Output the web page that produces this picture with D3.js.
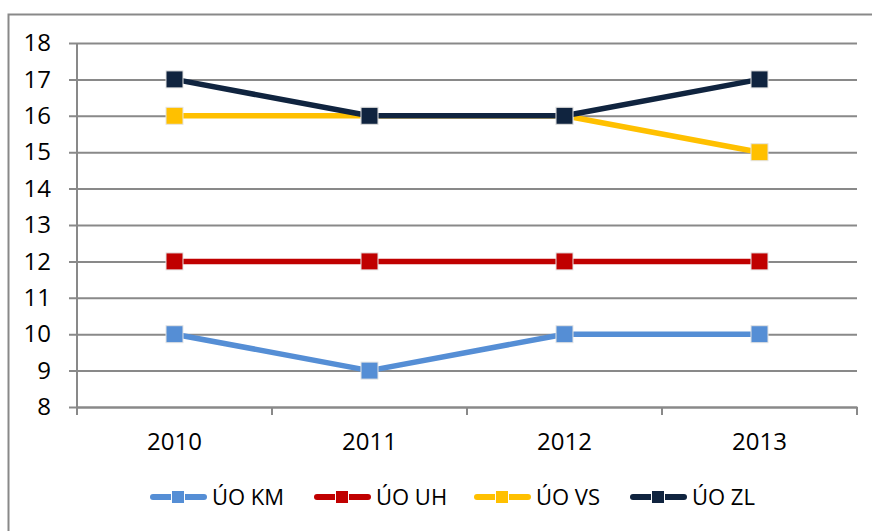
<!DOCTYPE html>
<html>
<head>
<meta charset="utf-8">
<script src="https://cdn.jsdelivr.net/npm/d3@7"></script>
<style>
  body { margin: 0; background: #fff; }
  svg { display: block; font-family: "Open Sans", "Noto Sans", sans-serif; }
</style>
</head>
<body>
<div id="container"></div>
<script>
// data
const years = ["2010", "2011", "2012", "2013"];
const seriesNames = ["ÚO KM", "ÚO UH", "ÚO VS", "ÚO ZL"];
const valuesKM = [10, 9, 10, 10];
const valuesUH = [12, 12, 12, 12];
const valuesVS = [16, 16, 16, 15];
const valuesZL = [17, 16, 16, 17];
const yTicks = [8, 9, 10, 11, 12, 13, 14, 15, 16, 17, 18];
const colors = ["#558ed5", "#c00000", "#ffc000", "#10243f"];

const series = [valuesKM, valuesUH, valuesVS, valuesZL].map((v, i) => ({
    name: seriesNames[i], color: colors[i], values: v
}));

const width = 872, height = 531;
const plot = {left: 77, right: 857, top: 43, bottom: 407};
const grey = "#898989";
const axisFont = 24;
const legendFont = 22;

const svg = d3.select("#container").append("svg")
    .attr("width", width)
    .attr("height", height);

// outer frame (only left + top are visible in the crop)
svg.append("path")
    .attr("d", `M8.5,${height + 2}V14.5H${width + 2}`)
    .attr("fill", "none")
    .attr("stroke", grey)
    .attr("stroke-width", 2);

const x = d3.scaleBand().domain(years).range([plot.left, plot.right]);
const y = d3.scaleLinear().domain([8, 18]).range([plot.bottom, plot.top]);

// y axis with gridlines
const yAxis = svg.append("g")
    .attr("transform", `translate(${plot.left},0)`)
    .call(d3.axisLeft(y).tickValues(yTicks).tickSize(8).tickPadding(18).tickSizeOuter(0));
yAxis.select(".domain").remove();
yAxis.selectAll(".tick line")
    .attr("x2", plot.right - plot.left)
    .attr("x1", -8)
    .attr("stroke", grey)
    .attr("stroke-width", 2);
yAxis.selectAll(".tick text")
    .attr("font-size", axisFont)
    .attr("fill", "#000")
    .attr("font-family", "'Open Sans', sans-serif");

// y axis line
svg.append("line")
    .attr("x1", plot.left).attr("x2", plot.left)
    .attr("y1", plot.top).attr("y2", plot.bottom + 8)
    .attr("stroke", grey).attr("stroke-width", 2);

// x axis
const xAxis = svg.append("g")
    .attr("transform", `translate(0,${plot.bottom})`)
    .call(d3.axisBottom(x).tickSize(0).tickPadding(26));
xAxis.select(".domain")
    .attr("stroke", grey).attr("stroke-width", 2);
xAxis.selectAll(".tick text")
    .attr("font-size", axisFont)
    .attr("fill", "#000")
    .attr("font-family", "'Open Sans', sans-serif");

// category boundary ticks
const bounds = years.map(d => x(d)).concat([x(years[years.length - 1]) + x.bandwidth()]);
svg.append("g").selectAll("line")
    .data(bounds)
    .join("line")
    .attr("x1", d => d).attr("x2", d => d)
    .attr("y1", plot.bottom).attr("y2", plot.bottom + 8)
    .attr("stroke", grey).attr("stroke-width", 2);

// lines
const cx = d => x(d) + x.bandwidth() / 2;
const line = d3.line()
    .x((v, i) => cx(years[i]))
    .y(v => y(v));

const ms = 17;
series.forEach(s => {
    const g = svg.append("g");
    g.append("path")
        .attr("d", line(s.values))
        .attr("fill", "none")
        .attr("stroke", s.color)
        .attr("stroke-width", 5.5)
        .attr("stroke-linejoin", "round");
    g.selectAll("rect")
        .data(s.values)
        .join("rect")
        .attr("x", (v, i) => cx(years[i]) - ms / 2)
        .attr("y", v => y(v) - ms / 2)
        .attr("width", ms)
        .attr("height", ms)
        .attr("fill", s.color)
        .attr("stroke", "#e4e4e4")
        .attr("stroke-width", 1);
});

// legend
const legendX = [150, 314, 474, 630];
const legendY = 497;
const leg = svg.append("g");
series.forEach((s, i) => {
    const g = leg.append("g").attr("transform", `translate(${legendX[i]},${legendY})`);
    g.append("line")
        .attr("x1", 3).attr("x2", 54)
        .attr("stroke", s.color)
        .attr("stroke-width", 6)
        .attr("stroke-linecap", "round");
    g.append("rect")
        .attr("x", 21.5).attr("y", -6.5)
        .attr("width", 13).attr("height", 13)
        .attr("fill", s.color)
        .attr("stroke", "#fff")
        .attr("stroke-width", 1);
    g.append("text")
        .attr("x", 62)
        .attr("dy", "0.36em")
        .attr("font-size", legendFont)
        .attr("fill", "#000")
        .text(s.name);
});
</script>
</body>
</html>
